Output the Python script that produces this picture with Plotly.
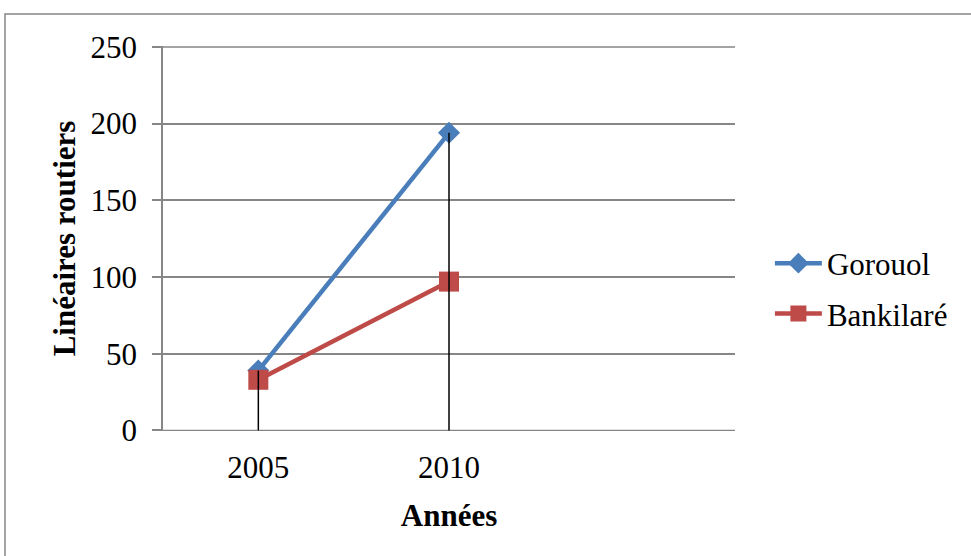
import plotly.graph_objects as go

categories = ["2005", "2010", ""]
gorouol = [39, 194]
bankilare = [33, 97]
y_ticks = [0, 50, 100, 150, 200, 250]

FONT = "Liberation Serif"
GRID = "#868686"
FS = 31

x_idx = list(range(len(categories)))

fig = go.Figure()
fig.add_trace(go.Scatter(
    x=x_idx[:len(gorouol)], y=gorouol, name="Gorouol", mode="lines+markers",
    line=dict(color="#4A7EBB", width=4.5),
    marker=dict(symbol="diamond", size=17, color="#4A7EBB"),
    legendgroup="a"))
fig.add_trace(go.Scatter(
    x=x_idx[:len(bankilare)], y=bankilare, name="Bankilaré", mode="lines+markers",
    line=dict(color="#BE4B48", width=4.5),
    marker=dict(symbol="square", size=20, color="#BE4B48"),
    legendgroup="b"))

# drop lines from highest point of each category to the axis
dx, dy = [], []
for i in range(len(gorouol)):
    dx += [x_idx[i], x_idx[i], None]
    dy += [0, max(gorouol[i], bankilare[i]), None]
fig.add_trace(go.Scatter(x=dx, y=dy, mode="lines", showlegend=False,
                         line=dict(color="black", width=1.5), hoverinfo="skip"))

# edge gridlines (first and last tick) drawn explicitly
edge_lines = [dict(type="line", xref="paper", yref="y", x0=0, x1=1, y0=v, y1=v,
                   line=dict(color=GRID, width=1.5), layer="below")
              for v in (y_ticks[0], y_ticks[-1])]

fig.update_layout(
    width=971, height=556,
    margin=dict(l=163, r=236, t=46, b=125),
    paper_bgcolor="white", plot_bgcolor="white",
    font=dict(family=FONT, size=FS, color="black"),
    showlegend=True,
    legend=dict(x=1.061, y=0.37, xanchor="left", yanchor="middle",
                font=dict(family=FONT, size=FS, color="black"), tracegroupgap=7,
                traceorder="grouped", bgcolor="rgba(0,0,0,0)", itemwidth=47),
    xaxis=dict(range=[-0.5, len(categories) - 0.5], tickvals=x_idx,
               ticktext=categories, showgrid=False, zeroline=False,
               showline=False, ticks="", ticklabelstandoff=15,
               title=dict(text="<b>Années</b>", standoff=20,
                          font=dict(family=FONT, size=FS)),
               tickfont=dict(family=FONT, size=FS)),
    yaxis=dict(range=[-0.4, 250.6], tickvals=y_ticks, showgrid=True,
               gridcolor=GRID, gridwidth=1.5, zeroline=False,
               showline=True, linecolor=GRID, linewidth=1.5,
               ticks="outside", ticklen=9, tickcolor=GRID, tickwidth=1.5,
               ticklabelstandoff=9,
               title=dict(text="<b>Linéaires routiers</b>", standoff=6,
                          font=dict(family=FONT, size=FS)),
               tickfont=dict(family=FONT, size=FS)),
    shapes=[dict(type="rect", xref="paper", yref="paper",
                 x0=(5 - 163) / 572, x1=1.6, y0=(431 - 14) / 385, y1=-0.6,
                 line=dict(color=GRID, width=1.5), layer="below")] + edge_lines,
)

fig.write_html("out.html", config={"displayModeBar": False},
               post_script="document.body.style.margin='0';")
